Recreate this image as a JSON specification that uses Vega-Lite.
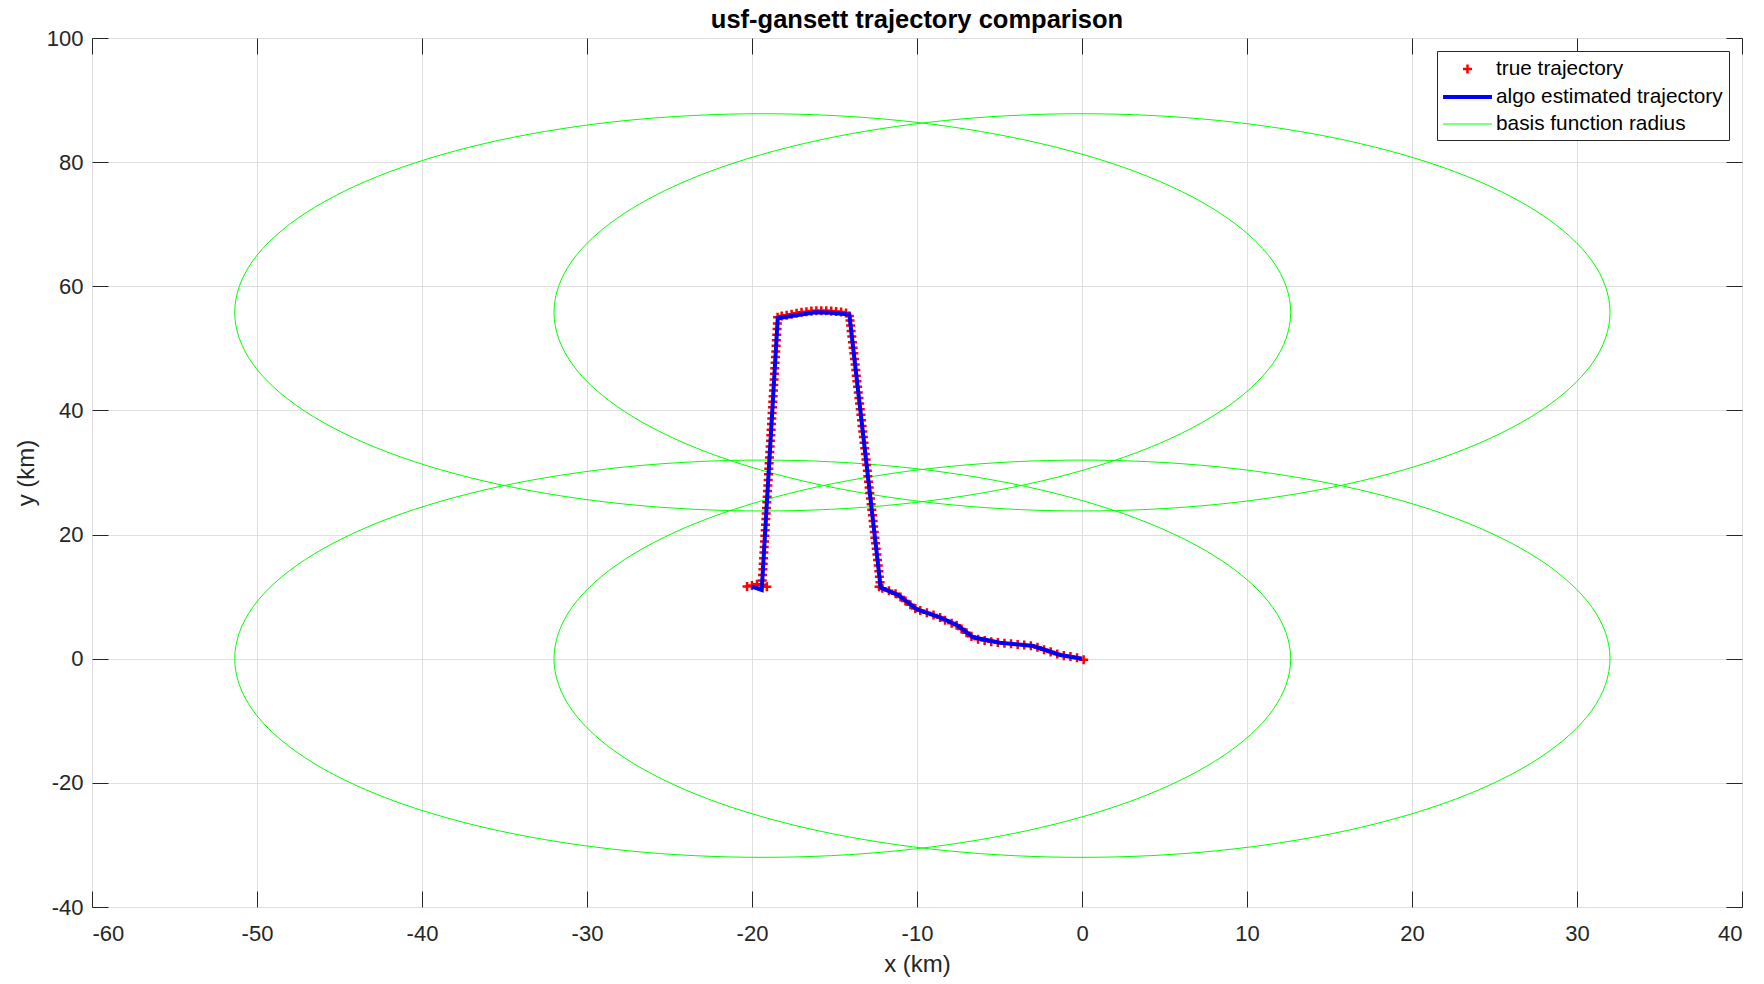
{
  "$schema": "https://vega.github.io/schema/vega-lite/v6.json",
  "width": 1650,
  "height": 869,
  "autosize": "none",
  "padding": {"left": 92, "top": 38, "right": 22, "bottom": 77},
  "background": "white",
  "title": {"text": "usf-gansett trajectory comparison", "font": "Liberation Sans", "fontSize": 25.5, "fontWeight": "bold", "color": "black", "anchor": "middle", "frame": "group", "baseline": "alphabetic", "offset": -26},
  "config": {
    "view": {"stroke": "#262626", "strokeWidth": 1},
    "axis": {"labelFont": "Liberation Sans", "labelFontSize": 22, "labelColor": "#262626", "titleFont": "Liberation Sans", "titleFontSize": 24, "titleFontWeight": "normal", "titleColor": "#262626", "gridColor": "#dfdfdf", "gridWidth": 1, "domain": false, "tickColor": "#262626", "tickWidth": 1, "tickSize": -16, "labelExpr": "'' + datum.value"},
    "legend": {"orient": "top-right", "offset": 13, "title": null, "strokeColor": "#262626", "fillColor": "white", "padding": 6, "labelFont": "Liberation Sans", "labelFontSize": 20.8, "labelColor": "black", "symbolSize": 441, "rowPadding": 5.5, "labelOffset": 16, "symbolOffset": 12, "labelLimit": 400, "symbolFillColor": "transparent"}
  },
  "datasets": {
    "circles": [
      {"s":"basis function radius","c":1,"i":0,"x":12.65,"y":0},{"s":"basis function radius","c":1,"i":1,"x":11.56,"y":8.28},{"s":"basis function radius","c":1,"i":2,"x":8.36,"y":16},{"s":"basis function radius","c":1,"i":3,"x":3.28,"y":22.63},{"s":"basis function radius","c":1,"i":4,"x":-3.35,"y":27.71},{"s":"basis function radius","c":1,"i":5,"x":-11.07,"y":30.91},{"s":"basis function radius","c":1,"i":6,"x":-19.35,"y":32},{"s":"basis function radius","c":1,"i":7,"x":-27.63,"y":30.91},{"s":"basis function radius","c":1,"i":8,"x":-35.35,"y":27.71},{"s":"basis function radius","c":1,"i":9,"x":-41.98,"y":22.63},{"s":"basis function radius","c":1,"i":10,"x":-47.06,"y":16},{"s":"basis function radius","c":1,"i":11,"x":-50.26,"y":8.28},{"s":"basis function radius","c":1,"i":12,"x":-51.35,"y":0},{"s":"basis function radius","c":1,"i":13,"x":-50.26,"y":-8.28},{"s":"basis function radius","c":1,"i":14,"x":-47.06,"y":-16},{"s":"basis function radius","c":1,"i":15,"x":-41.98,"y":-22.63},{"s":"basis function radius","c":1,"i":16,"x":-35.35,"y":-27.71},{"s":"basis function radius","c":1,"i":17,"x":-27.63,"y":-30.91},{"s":"basis function radius","c":1,"i":18,"x":-19.35,"y":-32},{"s":"basis function radius","c":1,"i":19,"x":-11.07,"y":-30.91},{"s":"basis function radius","c":1,"i":20,"x":-3.35,"y":-27.71},{"s":"basis function radius","c":1,"i":21,"x":3.28,"y":-22.63},{"s":"basis function radius","c":1,"i":22,"x":8.36,"y":-16},{"s":"basis function radius","c":1,"i":23,"x":11.56,"y":-8.28},
      {"s":"basis function radius","c":2,"i":0,"x":32,"y":0},{"s":"basis function radius","c":2,"i":1,"x":30.91,"y":8.28},{"s":"basis function radius","c":2,"i":2,"x":27.71,"y":16},{"s":"basis function radius","c":2,"i":3,"x":22.63,"y":22.63},{"s":"basis function radius","c":2,"i":4,"x":16,"y":27.71},{"s":"basis function radius","c":2,"i":5,"x":8.28,"y":30.91},{"s":"basis function radius","c":2,"i":6,"x":0,"y":32},{"s":"basis function radius","c":2,"i":7,"x":-8.28,"y":30.91},{"s":"basis function radius","c":2,"i":8,"x":-16,"y":27.71},{"s":"basis function radius","c":2,"i":9,"x":-22.63,"y":22.63},{"s":"basis function radius","c":2,"i":10,"x":-27.71,"y":16},{"s":"basis function radius","c":2,"i":11,"x":-30.91,"y":8.28},{"s":"basis function radius","c":2,"i":12,"x":-32,"y":0},{"s":"basis function radius","c":2,"i":13,"x":-30.91,"y":-8.28},{"s":"basis function radius","c":2,"i":14,"x":-27.71,"y":-16},{"s":"basis function radius","c":2,"i":15,"x":-22.63,"y":-22.63},{"s":"basis function radius","c":2,"i":16,"x":-16,"y":-27.71},{"s":"basis function radius","c":2,"i":17,"x":-8.28,"y":-30.91},{"s":"basis function radius","c":2,"i":18,"x":0,"y":-32},{"s":"basis function radius","c":2,"i":19,"x":8.28,"y":-30.91},{"s":"basis function radius","c":2,"i":20,"x":16,"y":-27.71},{"s":"basis function radius","c":2,"i":21,"x":22.63,"y":-22.63},{"s":"basis function radius","c":2,"i":22,"x":27.71,"y":-16},{"s":"basis function radius","c":2,"i":23,"x":30.91,"y":-8.28},
      {"s":"basis function radius","c":3,"i":0,"x":12.65,"y":55.8},{"s":"basis function radius","c":3,"i":1,"x":11.56,"y":64.08},{"s":"basis function radius","c":3,"i":2,"x":8.36,"y":71.8},{"s":"basis function radius","c":3,"i":3,"x":3.28,"y":78.43},{"s":"basis function radius","c":3,"i":4,"x":-3.35,"y":83.51},{"s":"basis function radius","c":3,"i":5,"x":-11.07,"y":86.71},{"s":"basis function radius","c":3,"i":6,"x":-19.35,"y":87.8},{"s":"basis function radius","c":3,"i":7,"x":-27.63,"y":86.71},{"s":"basis function radius","c":3,"i":8,"x":-35.35,"y":83.51},{"s":"basis function radius","c":3,"i":9,"x":-41.98,"y":78.43},{"s":"basis function radius","c":3,"i":10,"x":-47.06,"y":71.8},{"s":"basis function radius","c":3,"i":11,"x":-50.26,"y":64.08},{"s":"basis function radius","c":3,"i":12,"x":-51.35,"y":55.8},{"s":"basis function radius","c":3,"i":13,"x":-50.26,"y":47.52},{"s":"basis function radius","c":3,"i":14,"x":-47.06,"y":39.8},{"s":"basis function radius","c":3,"i":15,"x":-41.98,"y":33.17},{"s":"basis function radius","c":3,"i":16,"x":-35.35,"y":28.09},{"s":"basis function radius","c":3,"i":17,"x":-27.63,"y":24.89},{"s":"basis function radius","c":3,"i":18,"x":-19.35,"y":23.8},{"s":"basis function radius","c":3,"i":19,"x":-11.07,"y":24.89},{"s":"basis function radius","c":3,"i":20,"x":-3.35,"y":28.09},{"s":"basis function radius","c":3,"i":21,"x":3.28,"y":33.17},{"s":"basis function radius","c":3,"i":22,"x":8.36,"y":39.8},{"s":"basis function radius","c":3,"i":23,"x":11.56,"y":47.52},
      {"s":"basis function radius","c":4,"i":0,"x":32,"y":55.8},{"s":"basis function radius","c":4,"i":1,"x":30.91,"y":64.08},{"s":"basis function radius","c":4,"i":2,"x":27.71,"y":71.8},{"s":"basis function radius","c":4,"i":3,"x":22.63,"y":78.43},{"s":"basis function radius","c":4,"i":4,"x":16,"y":83.51},{"s":"basis function radius","c":4,"i":5,"x":8.28,"y":86.71},{"s":"basis function radius","c":4,"i":6,"x":0,"y":87.8},{"s":"basis function radius","c":4,"i":7,"x":-8.28,"y":86.71},{"s":"basis function radius","c":4,"i":8,"x":-16,"y":83.51},{"s":"basis function radius","c":4,"i":9,"x":-22.63,"y":78.43},{"s":"basis function radius","c":4,"i":10,"x":-27.71,"y":71.8},{"s":"basis function radius","c":4,"i":11,"x":-30.91,"y":64.08},{"s":"basis function radius","c":4,"i":12,"x":-32,"y":55.8},{"s":"basis function radius","c":4,"i":13,"x":-30.91,"y":47.52},{"s":"basis function radius","c":4,"i":14,"x":-27.71,"y":39.8},{"s":"basis function radius","c":4,"i":15,"x":-22.63,"y":33.17},{"s":"basis function radius","c":4,"i":16,"x":-16,"y":28.09},{"s":"basis function radius","c":4,"i":17,"x":-8.28,"y":24.89},{"s":"basis function radius","c":4,"i":18,"x":0,"y":23.8},{"s":"basis function radius","c":4,"i":19,"x":8.28,"y":24.89},{"s":"basis function radius","c":4,"i":20,"x":16,"y":28.09},{"s":"basis function radius","c":4,"i":21,"x":22.63,"y":33.17},{"s":"basis function radius","c":4,"i":22,"x":27.71,"y":39.8},{"s":"basis function radius","c":4,"i":23,"x":30.91,"y":47.52}
    ],
    "truth": [
      {"s":"true trajectory","x":0.1,"y":-0.15},{"s":"true trajectory","x":-0.3,"y":0.15},{"s":"true trajectory","x":-0.7,"y":0.35},{"s":"true trajectory","x":-1.1,"y":0.5},{"s":"true trajectory","x":-1.5,"y":0.75},{"s":"true trajectory","x":-1.9,"y":1.1},{"s":"true trajectory","x":-2.3,"y":1.45},{"s":"true trajectory","x":-2.7,"y":1.85},{"s":"true trajectory","x":-3.1,"y":2.1},{"s":"true trajectory","x":-3.5,"y":2.2},{"s":"true trajectory","x":-3.9,"y":2.3},{"s":"true trajectory","x":-4.3,"y":2.4},{"s":"true trajectory","x":-4.7,"y":2.5},{"s":"true trajectory","x":-5.1,"y":2.6},{"s":"true trajectory","x":-5.5,"y":2.75},{"s":"true trajectory","x":-5.9,"y":2.95},{"s":"true trajectory","x":-6.3,"y":3.15},{"s":"true trajectory","x":-6.7,"y":3.6},{"s":"true trajectory","x":-7.0,"y":4.2},{"s":"true trajectory","x":-7.3,"y":4.8},{"s":"true trajectory","x":-7.6,"y":5.4},{"s":"true trajectory","x":-7.9,"y":5.7},{"s":"true trajectory","x":-8.3,"y":6.2},{"s":"true trajectory","x":-8.6,"y":6.65},{"s":"true trajectory","x":-9.0,"y":7.05},{"s":"true trajectory","x":-9.4,"y":7.4},{"s":"true trajectory","x":-9.8,"y":7.75},{"s":"true trajectory","x":-10.1,"y":8.1},{"s":"true trajectory","x":-10.4,"y":8.7},{"s":"true trajectory","x":-10.7,"y":9.3},{"s":"true trajectory","x":-11.0,"y":9.95},{"s":"true trajectory","x":-11.3,"y":10.45},{"s":"true trajectory","x":-11.7,"y":10.95},{"s":"true trajectory","x":-12.1,"y":11.35},{"s":"true trajectory","x":-12.3,"y":11.6},
      {"s":"true trajectory","x":-12.24,"y":12.3},{"s":"true trajectory","x":-12.28,"y":13.2},{"s":"true trajectory","x":-12.31,"y":14.1},{"s":"true trajectory","x":-12.35,"y":15.0},{"s":"true trajectory","x":-12.39,"y":15.9},{"s":"true trajectory","x":-12.43,"y":16.8},{"s":"true trajectory","x":-12.47,"y":17.7},{"s":"true trajectory","x":-12.51,"y":18.6},{"s":"true trajectory","x":-12.55,"y":19.5},{"s":"true trajectory","x":-12.59,"y":20.4},{"s":"true trajectory","x":-12.63,"y":21.3},{"s":"true trajectory","x":-12.66,"y":22.2},{"s":"true trajectory","x":-12.7,"y":23.1},{"s":"true trajectory","x":-12.74,"y":24.0},{"s":"true trajectory","x":-12.78,"y":24.9},{"s":"true trajectory","x":-12.82,"y":25.8},{"s":"true trajectory","x":-12.86,"y":26.7},{"s":"true trajectory","x":-12.9,"y":27.6},{"s":"true trajectory","x":-12.94,"y":28.5},{"s":"true trajectory","x":-12.98,"y":29.4},{"s":"true trajectory","x":-13.01,"y":30.3},{"s":"true trajectory","x":-13.05,"y":31.2},{"s":"true trajectory","x":-13.09,"y":32.1},{"s":"true trajectory","x":-13.13,"y":33.0},{"s":"true trajectory","x":-13.17,"y":33.9},{"s":"true trajectory","x":-13.21,"y":34.8},{"s":"true trajectory","x":-13.25,"y":35.7},{"s":"true trajectory","x":-13.29,"y":36.6},{"s":"true trajectory","x":-13.33,"y":37.5},{"s":"true trajectory","x":-13.36,"y":38.4},{"s":"true trajectory","x":-13.4,"y":39.3},{"s":"true trajectory","x":-13.44,"y":40.2},{"s":"true trajectory","x":-13.48,"y":41.1},{"s":"true trajectory","x":-13.52,"y":42.0},{"s":"true trajectory","x":-13.56,"y":42.9},{"s":"true trajectory","x":-13.6,"y":43.8},{"s":"true trajectory","x":-13.64,"y":44.7},{"s":"true trajectory","x":-13.68,"y":45.6},{"s":"true trajectory","x":-13.71,"y":46.5},{"s":"true trajectory","x":-13.75,"y":47.4},{"s":"true trajectory","x":-13.79,"y":48.3},{"s":"true trajectory","x":-13.83,"y":49.2},{"s":"true trajectory","x":-13.87,"y":50.1},{"s":"true trajectory","x":-13.91,"y":51.0},{"s":"true trajectory","x":-13.95,"y":51.9},{"s":"true trajectory","x":-13.99,"y":52.8},{"s":"true trajectory","x":-14.02,"y":53.7},{"s":"true trajectory","x":-14.06,"y":54.5},{"s":"true trajectory","x":-14.1,"y":55.2},
      {"s":"true trajectory","x":-14.3,"y":55.7},{"s":"true trajectory","x":-14.6,"y":55.85},{"s":"true trajectory","x":-14.9,"y":55.95},{"s":"true trajectory","x":-15.2,"y":56.0},{"s":"true trajectory","x":-15.5,"y":56.05},{"s":"true trajectory","x":-15.8,"y":56.05},{"s":"true trajectory","x":-16.1,"y":56.05},{"s":"true trajectory","x":-16.4,"y":56.0},{"s":"true trajectory","x":-16.7,"y":55.9},{"s":"true trajectory","x":-17.0,"y":55.8},{"s":"true trajectory","x":-17.3,"y":55.65},{"s":"true trajectory","x":-17.6,"y":55.5},{"s":"true trajectory","x":-17.9,"y":55.35},{"s":"true trajectory","x":-18.2,"y":55.2},{"s":"true trajectory","x":-18.45,"y":55.0},
      {"s":"true trajectory","x":-18.46,"y":54.0},{"s":"true trajectory","x":-18.48,"y":53.1},{"s":"true trajectory","x":-18.5,"y":52.2},{"s":"true trajectory","x":-18.52,"y":51.3},{"s":"true trajectory","x":-18.54,"y":50.4},{"s":"true trajectory","x":-18.56,"y":49.5},{"s":"true trajectory","x":-18.58,"y":48.6},{"s":"true trajectory","x":-18.6,"y":47.7},{"s":"true trajectory","x":-18.62,"y":46.8},{"s":"true trajectory","x":-18.64,"y":45.9},{"s":"true trajectory","x":-18.66,"y":45.0},{"s":"true trajectory","x":-18.68,"y":44.1},{"s":"true trajectory","x":-18.7,"y":43.2},{"s":"true trajectory","x":-18.72,"y":42.3},{"s":"true trajectory","x":-18.74,"y":41.4},{"s":"true trajectory","x":-18.76,"y":40.5},{"s":"true trajectory","x":-18.78,"y":39.6},{"s":"true trajectory","x":-18.8,"y":38.7},{"s":"true trajectory","x":-18.82,"y":37.8},{"s":"true trajectory","x":-18.84,"y":36.9},{"s":"true trajectory","x":-18.86,"y":36.0},{"s":"true trajectory","x":-18.88,"y":35.1},{"s":"true trajectory","x":-18.9,"y":34.2},{"s":"true trajectory","x":-18.92,"y":33.3},{"s":"true trajectory","x":-18.94,"y":32.4},{"s":"true trajectory","x":-18.96,"y":31.5},{"s":"true trajectory","x":-18.98,"y":30.6},{"s":"true trajectory","x":-19.0,"y":29.7},{"s":"true trajectory","x":-19.02,"y":28.8},{"s":"true trajectory","x":-19.04,"y":27.9},{"s":"true trajectory","x":-19.06,"y":27.0},{"s":"true trajectory","x":-19.08,"y":26.1},{"s":"true trajectory","x":-19.1,"y":25.2},{"s":"true trajectory","x":-19.12,"y":24.3},{"s":"true trajectory","x":-19.14,"y":23.4},{"s":"true trajectory","x":-19.16,"y":22.5},{"s":"true trajectory","x":-19.18,"y":21.6},{"s":"true trajectory","x":-19.2,"y":20.7},{"s":"true trajectory","x":-19.22,"y":19.8},{"s":"true trajectory","x":-19.24,"y":18.9},{"s":"true trajectory","x":-19.26,"y":18.0},{"s":"true trajectory","x":-19.28,"y":17.1},{"s":"true trajectory","x":-19.3,"y":16.2},{"s":"true trajectory","x":-19.32,"y":15.3},{"s":"true trajectory","x":-19.34,"y":14.4},{"s":"true trajectory","x":-19.36,"y":13.5},{"s":"true trajectory","x":-19.38,"y":12.6},{"s":"true trajectory","x":-19.4,"y":11.8},
      {"s":"true trajectory","x":-19.1,"y":11.6},{"s":"true trajectory","x":-19.4,"y":11.9},{"s":"true trajectory","x":-19.7,"y":12.0},{"s":"true trajectory","x":-20.0,"y":11.8},{"s":"true trajectory","x":-20.3,"y":11.65}
    ],
    "algo": [
      {"s":"algo estimated trajectory","i":1,"x":-20.0,"y":11.6},{"s":"algo estimated trajectory","i":2,"x":-19.41,"y":11.07},{"s":"algo estimated trajectory","i":3,"x":-18.44,"y":54.84},{"s":"algo estimated trajectory","i":4,"x":-16.18,"y":55.81},{"s":"algo estimated trajectory","i":5,"x":-15.2,"y":55.75},{"s":"algo estimated trajectory","i":6,"x":-14.1,"y":55.45},{"s":"algo estimated trajectory","i":7,"x":-12.2,"y":11.44},{"s":"algo estimated trajectory","i":8,"x":-11.13,"y":10.26},{"s":"algo estimated trajectory","i":9,"x":-10.02,"y":7.96},{"s":"algo estimated trajectory","i":10,"x":-8.61,"y":6.67},{"s":"algo estimated trajectory","i":11,"x":-7.59,"y":5.43},{"s":"algo estimated trajectory","i":12,"x":-6.59,"y":3.45},{"s":"algo estimated trajectory","i":13,"x":-4.97,"y":2.58},{"s":"algo estimated trajectory","i":14,"x":-2.95,"y":2.05},{"s":"algo estimated trajectory","i":15,"x":-1.33,"y":0.6},{"s":"algo estimated trajectory","i":16,"x":0.0,"y":0.0}
    ]
  },
  "layer": [
    {
      "data": {"name": "circles"},
      "mark": {"type": "line", "interpolate": "cardinal-closed", "tension": 0},
      "encoding": {
        "x": {"field": "x", "type": "quantitative", "scale": {"domain": [-60, 40], "nice": false, "zero": false}, "axis": {"orient": "bottom", "title": "x (km)", "values": [-60,-50,-40,-30,-20,-10,0,10,20,30,40], "grid": true, "labelPadding": 32, "titlePadding": 8}},
        "y": {"field": "y", "type": "quantitative", "scale": {"domain": [-40, 100], "nice": false, "zero": false}, "axis": {"orient": "left", "title": "y (km)", "values": [-40,-20,0,20,40,60,80,100], "grid": true, "labelPadding": 25, "titlePadding": 8}},
        "detail": {"field": "c", "type": "nominal"},
        "order": {"field": "i", "type": "quantitative"},
        "color": {"field": "s", "type": "nominal", "scale": {"domain": ["basis function radius", "true trajectory", "algo estimated trajectory"], "range": ["#00ff00", "#ff0000", "#0000ff"]}, "legend": {"title": null, "values": ["true trajectory", "algo estimated trajectory", "basis function radius"]}},
        "strokeWidth": {"field": "s", "type": "nominal", "scale": {"domain": ["basis function radius", "true trajectory", "algo estimated trajectory"], "range": [1, 4]}, "legend": {"title": null, "values": ["true trajectory", "algo estimated trajectory", "basis function radius"]}}
      }
    },
    {
      "data": {"name": "truth"},
      "mark": {"type": "point", "filled": false, "size": 441, "opacity": 1},
      "encoding": {
        "x": {"field": "x", "type": "quantitative", "scale": {"domain": [-60, 40], "nice": false, "zero": false}, "axis": {"orient": "top", "title": null, "labels": false, "grid": false, "values": [-60,-50,-40,-30,-20,-10,0,10,20,30,40]}},
        "y": {"field": "y", "type": "quantitative", "scale": {"domain": [-40, 100], "nice": false, "zero": false}, "axis": {"orient": "right", "title": null, "labels": false, "grid": false, "values": [-40,-20,0,20,40,60,80,100]}},
        "color": {"field": "s", "type": "nominal", "legend": {"title": null, "values": ["true trajectory", "algo estimated trajectory", "basis function radius"]}},
        "strokeWidth": {"field": "s", "type": "nominal", "legend": {"title": null, "values": ["true trajectory", "algo estimated trajectory", "basis function radius"]}},
        "shape": {"field": "s", "type": "nominal", "scale": {"domain": ["basis function radius", "true trajectory", "algo estimated trajectory"], "range": ["M-2.33,0H2.33", "M-0.43,0H0.43M0,-0.43V0.43", "M-2.33,0H2.33"]}, "legend": {"title": null, "values": ["true trajectory", "algo estimated trajectory", "basis function radius"]}}
      }
    },
    {
      "data": {"name": "algo"},
      "mark": {"type": "line"},
      "encoding": {
        "x": {"field": "x", "type": "quantitative", "scale": {"domain": [-60, 40], "nice": false, "zero": false}, "axis": null},
        "y": {"field": "y", "type": "quantitative", "scale": {"domain": [-40, 100], "nice": false, "zero": false}, "axis": null},
        "order": {"field": "i", "type": "quantitative"},
        "color": {"field": "s", "type": "nominal", "legend": {"title": null, "values": ["true trajectory", "algo estimated trajectory", "basis function radius"]}},
        "strokeWidth": {"field": "s", "type": "nominal", "legend": {"title": null, "values": ["true trajectory", "algo estimated trajectory", "basis function radius"]}}
      }
    }
  ],
  "resolve": {"axis": {"x": "independent", "y": "independent"}}
}
